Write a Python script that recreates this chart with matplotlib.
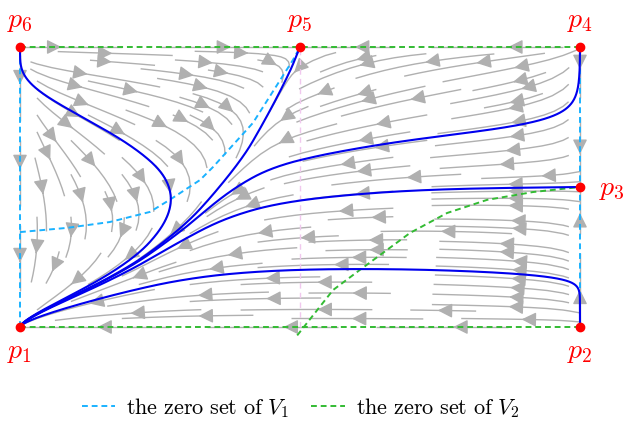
import numpy as np
import matplotlib
matplotlib.use('Agg')
import matplotlib.pyplot as plt
from matplotlib.lines import Line2D

plt.rcParams['mathtext.fontset'] = 'cm'

# ---- data ----
eq_labels = ['$p_1$', '$p_2$', '$p_3$', '$p_4$', '$p_5$', '$p_6$']
eq_x = [0.0, 2.0, 2.0, 2.0, 1.0, 0.0]
eq_y = [0.0, 0.0, 0.5, 1.0, 1.0, 1.0]
lab_x = [0.0, 2.0, 2.115, 2.0, 1.0, 0.0]
lab_y = [-0.085, -0.085, 0.496, 1.095, 1.095, 1.095]

# interior part of the zero set of V1
z1_x = [0.0, 0.168, 0.321, 0.464, 0.536, 0.643, 0.689, 0.832, 0.975, 1.0]
z1_y = [0.339, 0.354, 0.375, 0.411, 0.455, 0.525, 0.571, 0.729, 0.954, 1.0]
# interior part of the zero set of V2
z2_x = [0.99, 1.118, 1.214, 1.393, 1.525, 1.668, 1.832, 2.0]
z2_y = [-0.03, 0.132, 0.204, 0.336, 0.407, 0.454, 0.482, 0.5]

# points on the blue trajectories (seeds)
seed_x = [0.286, 1.0, 1.0]
seed_y = [0.714, 0.596, 0.204]

# model parameters of the vector field
c1_right_end = 1.22
c2_left_end = -0.9
k1_nodes = [2.0, 1.5, 1.5]
s_nodes = [0.7, 0.0, 0.0]


def field(x, y):
    c1 = np.interp(x, z1_x + [2.0], z1_y + [c1_right_end])
    c2 = np.interp(x, [0.0] + z2_x, [c2_left_end] + z2_y)
    k1 = np.interp(x, [0.0, 1.0, 2.0], k1_nodes)
    s = np.interp(x, [0.0, 1.0, 2.0], s_nodes)
    v1 = k1 * x * (2 - x) * (y - c1)
    v2 = y * (1 - y) * (c2 - y) * (1 - s * y)
    return v1, v2


def unit(x, y, d):
    u, v = field(x, y)
    n = np.hypot(u, v)
    if n < 1e-14:
        return 0.0, 0.0
    return d * u / n, d * v / n


def trace(x0, y0, d, ds=0.002, nmax=6000, skip=None):
    xs, ys = [x0], [y0]
    x, y = x0, y0
    for i in range(nmax):
        a = unit(x, y, d)
        b = unit(x + ds / 2 * a[0], y + ds / 2 * a[1], d)
        c = unit(x + ds / 2 * b[0], y + ds / 2 * b[1], d)
        e = unit(x + ds * c[0], y + ds * c[1], d)
        dx = ds / 6 * (a[0] + 2 * b[0] + 2 * c[0] + e[0])
        dy = ds / 6 * (a[1] + 2 * b[1] + 2 * c[1] + e[1])
        if dx == 0 and dy == 0:
            break
        x, y = x + dx, y + dy
        x = min(max(x, 0.0), 2.0)
        y = min(max(y, 0.0), 1.0)
        xs.append(x)
        ys.append(y)
        stop = False
        for j, (ex, ey) in enumerate(zip(eq_x, eq_y)):
            if j == skip:
                continue
            if np.hypot(x - ex, y - ey) < 0.004:
                xs.append(ex)
                ys.append(ey)
                stop = True
        if stop:
            break
    return np.array(xs), np.array(ys)


fig = plt.figure(figsize=(6.26, 4.21), dpi=100)
ax = fig.add_axes([0, 0, 1, 1])
ax.set_xlim(-20 / 280, 606 / 280)
ax.set_ylim(-94 / 280, 327 / 280)
ax.axis('off')

gx = np.linspace(0, 2, 201)
gy = np.linspace(0, 1, 101)
GX, GY = np.meshgrid(gx, gy)
U, V = field(GX, GY)
ax.streamplot(GX, GY, U, V, density=1.15, color='#b0b0b0', linewidth=1.0,
              arrowsize=2.2, arrowstyle='-|>', maxlength=0.5, zorder=1)

cyan = '#1ab2ff'
green = '#33bb33'
dash = (0, (3, 2))
ax.plot([1, 1], [0, 1], color='#f0c8ee', lw=1.0, ls=(0, (4, 3)), zorder=2)
ax.plot([0, 0], [0, 1], color=cyan, lw=1.4, ls=dash, zorder=3)
ax.plot([2, 2], [0, 1], color=cyan, lw=1.4, ls=dash, zorder=3)
ax.plot(z1_x, z1_y, color=cyan, lw=1.4, ls=dash, zorder=3)
ax.plot([0, 2], [1, 1], color=green, lw=1.4, ls=dash, zorder=3)
ax.plot([0, 2], [0, 0], color=green, lw=1.4, ls=dash, zorder=3)
ax.plot(z2_x, z2_y, color=green, lw=1.4, ls=dash, zorder=3)

blue = '#0000ee'
for sx, sy in zip(seed_x, seed_y):
    xb, yb = trace(sx, sy, -1)
    xf, yf = trace(sx, sy, 1)
    ax.plot(np.r_[xb[::-1], xf], np.r_[yb[::-1], yf], color=blue, lw=1.5, zorder=4)

# unstable manifold of p5 (saddle)
xf, yf = trace(1 - 1e-4, 1 - 2.5e-4, 1, skip=4)
ax.plot(np.r_[1.0, xf], np.r_[1.0, yf], color=blue, lw=1.5, zorder=4)
# unstable manifold of p3 (saddle)
xf, yf = trace(2 - 1e-4, 0.5, 1, skip=2)
ax.plot(np.r_[2.0, xf], np.r_[0.5, yf], color=blue, lw=1.5, zorder=4)

ax.plot(eq_x, eq_y, 'o', color='red', ms=6, zorder=5)
for t, lx, ly in zip(eq_labels, lab_x, lab_y):
    ax.text(lx, ly, t, color='red', fontsize=20, ha='center', va='center')

handles = [Line2D([], [], color=cyan, lw=1.4, ls=dash),
           Line2D([], [], color=green, lw=1.4, ls=dash)]
labels = [r'$\mathrm{the\ zero\ set\ of\ }V_1$', r'$\mathrm{the\ zero\ set\ of\ }V_2$']
fig.legend(handles, labels, loc='lower center', bbox_to_anchor=(0.48, -0.045), ncol=2,
           frameon=False, fontsize=16, handlelength=1.5, handletextpad=0.5,
           columnspacing=1.0)

fig.savefig('out.png', dpi=100)
